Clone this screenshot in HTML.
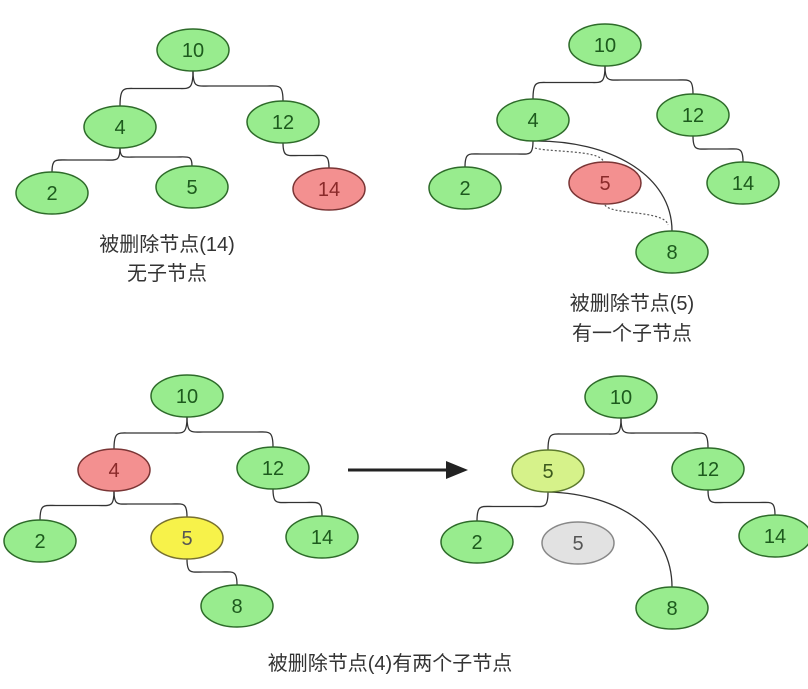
<!DOCTYPE html>
<html><head><meta charset="utf-8"><style>
html,body{margin:0;padding:0;background:#fff;width:808px;height:689px;overflow:hidden}
svg text{font-family:"Liberation Sans","Noto Sans CJK SC",sans-serif}
</style></head><body>
<svg id="s" width="808" height="689" viewBox="0 0 808 689" xmlns="http://www.w3.org/2000/svg">
<g id="edges" fill="none" stroke="#333" stroke-width="1.3"></g>
<path d="M533,141 C610,140 672,175 672,231" fill="none" stroke="#333" stroke-width="1.3"/>
<path d="M548,492 C620,494 672,530 672,587" fill="none" stroke="#333" stroke-width="1.3"/>
<path d="M535,148 C545,152 600,150 603,161 M605,205 C610,215 665,210 668,225" fill="none" stroke="#555" stroke-width="1.2" stroke-dasharray="2,2"/>
<g id="nodes"></g>
<path d="M348,470 L448,470" stroke="#222" stroke-width="3"/>
<polygon points="468,470 446,461 446,479" fill="#222"/>
<text x="167" y="251" font-size="20" fill="#333" text-anchor="middle">被删除节点(14)</text>
<text x="167" y="280" font-size="20" fill="#333" text-anchor="middle">无子节点</text>
<text x="632" y="310" font-size="20" fill="#333" text-anchor="middle">被删除节点(5)</text>
<text x="632" y="340" font-size="20" fill="#333" text-anchor="middle">有一个子节点</text>
<text x="390" y="670" font-size="20" fill="#333" text-anchor="middle">被删除节点(4)有两个子节点</text>
</svg>
<script>
const S='http://www.w3.org/2000/svg';
const nodes=[
['t1-10',193,50,'10','g'],['t1-4',120,127,'4','g'],['t1-12',283,122,'12','g'],['t1-2',52,193,'2','g'],['t1-5',192,187,'5','g'],['t1-14',329,189,'14','r'],
['t2-10',605,45,'10','g'],['t2-4',533,120,'4','g'],['t2-12',693,115,'12','g'],['t2-2',465,188,'2','g'],['t2-5',605,183,'5','r'],['t2-14',743,183,'14','g'],['t2-8',672,252,'8','g'],
['t3-10',187,396,'10','g'],['t3-4',114,470,'4','r'],['t3-12',273,468,'12','g'],['t3-2',40,541,'2','g'],['t3-5',187,538,'5','y'],['t3-14',322,537,'14','g'],['t3-8',237,606,'8','g'],
['t4-10',621,397,'10','g'],['t4-5',548,471,'5','l'],['t4-12',708,469,'12','g'],['t4-2',477,542,'2','g'],['t4-5b',578,543,'5','x'],['t4-14',775,536,'14','g'],['t4-8',672,608,'8','g']
];
const edges=[['t1-10','t1-4'],['t1-10','t1-12'],['t1-4','t1-2'],['t1-4','t1-5'],['t1-12','t1-14'],
['t2-10','t2-4'],['t2-10','t2-12'],['t2-4','t2-2'],['t2-12','t2-14'],
['t3-10','t3-4'],['t3-10','t3-12'],['t3-4','t3-2'],['t3-4','t3-5'],['t3-12','t3-14'],['t3-5','t3-8'],
['t4-10','t4-5'],['t4-10','t4-12'],['t4-5','t4-2'],['t4-12','t4-14']];
const col={g:['#98ec8e','#2e6b2a','#1d5a1d'],r:['#f39090','#7a3535','#8a2a2a'],y:['#f7f24a','#777030','#555'],l:['#d6f28a','#5d7a2e','#3d5a1d'],x:['#e2e2e2','#888','#555']};
const RX=36,RY=21;const m={};nodes.forEach(n=>m[n[0]]=n);
const eg=document.getElementById('edges'),ng=document.getElementById('nodes');
edges.forEach(e=>{const p=m[e[0]],c=m[e[1]];const y1=p[2]+RY,y2=c[2]-RY,mid=(y1+y2)/2,d=c[1]>p[1]?1:-1;
const pa=document.createElementNS(S,'path');
pa.setAttribute('d',`M${p[1]},${y1} C${p[1]},${mid+2} ${p[1]+d*4},${mid} ${p[1]+d*16},${mid} L${c[1]-d*16},${mid} C${c[1]-d*4},${mid} ${c[1]},${mid-2} ${c[1]},${y2}`);


eg.appendChild(pa);});
nodes.forEach(n=>{const c=col[n[4]];const g=document.createElementNS(S,'g');


const el=document.createElementNS(S,'ellipse');el.setAttribute('cx',n[1]);el.setAttribute('cy',n[2]);el.setAttribute('rx',RX);el.setAttribute('ry',RY);el.setAttribute('fill',c[0]);el.setAttribute('stroke',c[1]);el.setAttribute('stroke-width','1.5');
const t=document.createElementNS(S,'text');t.setAttribute('x',n[1]);t.setAttribute('y',n[2]+7);t.setAttribute('text-anchor','middle');t.setAttribute('font-size','20');t.setAttribute('fill',c[2]);t.textContent=n[3];
g.appendChild(el);g.appendChild(t);ng.appendChild(g);});
</script>
</body></html>
